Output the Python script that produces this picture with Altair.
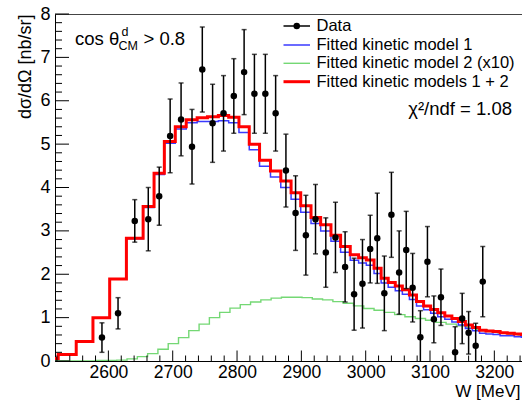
import altair as alt
import pandas as pd

FONT = "Liberation Sans"

# ---- fitted models (variable bins, same as data) ----
fit_edges = [2517, 2522, 2550, 2576, 2602, 2628, 2654, 2671, 2687, 2704, 2721, 2738, 2754,
             2771, 2787, 2803, 2819, 2835, 2852, 2868, 2884, 2899, 2915, 2930, 2946, 2961,
             2976, 2989, 3001, 3013, 3024, 3035, 3046, 3057, 3068, 3079, 3090, 3101, 3112,
             3123, 3134, 3144, 3155, 3166, 3177, 3187, 3198, 3209, 3220, 3231, 3242, 3253]
red_vals = [0.06, 0.15, 0.45, 1.00, 1.89, 2.83, 3.56, 4.33, 5.06, 5.40, 5.56, 5.61, 5.63,
            5.66, 5.62, 5.40, 5.00, 4.63, 4.38, 4.15, 3.88, 3.58, 3.31, 3.14, 2.90, 2.64,
            2.45, 2.38, 2.33, 2.14, 1.91, 1.81, 1.73, 1.64, 1.52, 1.37, 1.27, 1.19, 1.11,
            1.04, 0.98, 0.91, 0.83, 0.77, 0.71, 0.69, 0.68, 0.65, 0.64, 0.62, 0.61]
blue_vals = [0.06, 0.15, 0.45, 1.00, 1.89, 2.82, 3.54, 4.30, 5.02, 5.35, 5.49, 5.52, 5.52,
             5.54, 5.49, 5.27, 4.87, 4.49, 4.24, 4.00, 3.73, 3.43, 3.17, 3.00, 2.76, 2.51,
             2.32, 2.26, 2.21, 2.02, 1.80, 1.70, 1.62, 1.54, 1.42, 1.27, 1.18, 1.10, 1.02,
             0.96, 0.90, 0.83, 0.75, 0.70, 0.64, 0.62, 0.61, 0.58, 0.58, 0.56, 0.55]

# ---- model 2 (x10), uniform 16 MeV bins ----
green_edges = list(range(2517, 3254, 16))
green_vals = [0.0, 0.0, 0.0, 0.0, 0.01, 0.01, 0.02, 0.05, 0.10, 0.17, 0.27, 0.40, 0.54,
              0.70, 0.85, 1.00, 1.12, 1.22, 1.30, 1.36, 1.41, 1.45, 1.47, 1.47, 1.46, 1.43,
              1.41, 1.37, 1.33, 1.27, 1.21, 1.17, 1.12, 1.07, 1.02, 0.98, 0.94, 0.89, 0.85,
              0.81, 0.76, 0.72, 0.68, 0.65, 0.62, 0.60]

# ---- data points ----
data_W = [2590, 2615, 2641, 2662, 2679, 2696, 2713, 2730, 2746, 2762, 2779, 2795, 2811,
          2827, 2844, 2860, 2876, 2891, 2907, 2922, 2938, 2953, 2968, 2982, 2995, 3007,
          3018, 3029, 3040, 3052, 3063, 3073, 3085, 3096, 3106, 3117, 3139, 3150, 3160,
          3171, 3182]
data_y = [0.54, 1.10, 3.23, 3.27, 3.80, 5.19, 5.57, 4.94, 6.72, 5.48, 5.71, 6.11, 6.66,
          6.16, 6.16, 5.71, 4.39, 3.41, 2.90, 3.27, 2.50, 2.85, 2.17, 1.54, 1.78, 2.58,
          2.83, 1.56, 3.37, 2.04, 2.56, 1.69, 0.55, 2.29, 0.96, 1.47, 0.20, 0.98, 0.65,
          0.35, 1.83]
data_err = [0.34, 0.36, 0.49, 0.73, 0.67, 0.85, 0.84, 0.86, 0.98, 0.90, 0.87, 0.86, 0.98,
            0.91, 0.91, 0.87, 0.84, 0.86, 0.92, 0.80, 0.80, 0.81, 0.81, 0.83, 1.02, 0.78,
            1.04, 0.86, 0.98, 0.96, 0.89, 0.79, 0.61, 0.81, 0.54, 0.65, 0.59, 0.58, 0.49,
            0.52, 0.81]

x_major = [2600, 2700, 2800, 2900, 3000, 3100, 3200]
y_major = [0, 1, 2, 3, 4, 5, 6, 7, 8]

W_DOMAIN = [2517, 3243]
PW, PH = 467, 347

xs = alt.Scale(domain=W_DOMAIN, nice=False, zero=False)
ys = alt.Scale(domain=[0, 8], nice=False, zero=False)

X_AXIS = alt.Axis(
    values=x_major, format="d", ticks=False, tickSize=0, grid=False, domainColor="black",
    labelFont=FONT, labelFontSize=17.5, labelColor="black", labelPadding=2,
    title="W [MeV]", titleFont=FONT, titleFontSize=17, titleFontWeight="normal",
    titleColor="black", titleAlign="right", titleAnchor="end", titleX=PW - 2,
    titleY=35, titleBaseline="alphabetic")
Y_AXIS = alt.Axis(
    values=y_major, format="d", ticks=False, tickSize=0, grid=False, domainColor="black",
    labelFont=FONT, labelFontSize=18, labelColor="black", labelPadding=5,
    title="dσ/dΩ [nb/sr]", titleFont=FONT, titleFontSize=18, titleFontWeight="normal",
    titleColor="black", titleAngle=-90, titleAlign="right", titleAnchor="end",
    titleX=-30, titleY=0, titleBaseline="middle")


def X(field):
    return alt.X(field, scale=xs, axis=X_AXIS)


def Y(field):
    return alt.Y(field, scale=ys, axis=Y_AXIS)


def step_df(edges, vals):
    return pd.DataFrame({"W": edges, "v": list(vals) + [vals[-1]]})


def hist_layer(edges, vals, color, width):
    return alt.Chart(step_df(edges, vals)).mark_line(
        interpolate="step-after", color=color, strokeWidth=width, clip=True
    ).encode(x=X("W:Q"), y=Y("v:Q"))


GREEN, BLUE, RED = "#74d874", "#3a3aff", "#ff0000"
green = hist_layer(green_edges, green_vals, GREEN, 1.4)
blue = hist_layer(fit_edges, blue_vals, BLUE, 1.5)
red = hist_layer(fit_edges, red_vals, RED, 3)

ddf = pd.DataFrame({"W": data_W, "y": data_y, "err": data_err})
ddf["lo"] = ddf["y"] - ddf["err"]
ddf["hi"] = ddf["y"] + ddf["err"]

base_d = alt.Chart(ddf)
err_rules = base_d.mark_rule(color="black", strokeWidth=1.5, clip=True).encode(
    x=X("W:Q"), y=Y("lo:Q"), y2="hi:Q")
cap_lo = base_d.mark_tick(color="black", orient="horizontal", size=5, thickness=1.5, clip=True).encode(
    x=X("W:Q"), y=Y("lo:Q"))
cap_hi = base_d.mark_tick(color="black", orient="horizontal", size=5, thickness=1.5, clip=True).encode(
    x=X("W:Q"), y=Y("hi:Q"))
pts = base_d.mark_circle(color="black", opacity=1, size=42).encode(x=X("W:Q"), y=Y("y:Q"))

# ---- inward axis ticks ----
x_minor = [w for w in range(2520, 3241, 20) if w not in x_major]
y_minor = [round(i * 0.2, 1) for i in range(41) if i % 5 != 0]

xt_major = alt.Chart(pd.DataFrame({"W": x_major})).mark_rule(color="black", strokeWidth=1).encode(
    x=X("W:Q"), y=alt.value(PH), y2=alt.value(PH - 10.5))
xt_minor = alt.Chart(pd.DataFrame({"W": x_minor})).mark_rule(color="black", strokeWidth=1).encode(
    x=X("W:Q"), y=alt.value(PH), y2=alt.value(PH - 5.5))
yt_major = alt.Chart(pd.DataFrame({"v": y_major})).mark_rule(color="black", strokeWidth=1).encode(
    y=Y("v:Q"), x=alt.value(0), x2=alt.value(14))
yt_minor = alt.Chart(pd.DataFrame({"v": y_minor})).mark_rule(color="black", strokeWidth=1).encode(
    y=Y("v:Q"), x=alt.value(0), x2=alt.value(7))


# ---- annotations ----
def txt(s, x, y, size, align="left", baseline="alphabetic"):
    return alt.Chart(pd.DataFrame({"t": [s]})).mark_text(
        align=align, baseline=baseline, font=FONT, fontSize=size, color="black"
    ).encode(text="t:N", x=alt.value(x), y=alt.value(y))


def lrule(x1, x2, y, color, width):
    return alt.Chart(pd.DataFrame({"t": [0]})).mark_rule(color=color, strokeWidth=width).encode(
        x=alt.value(x1), x2=alt.value(x2), y=alt.value(y))


legend_labels = ["Data", "Fitted kinetic model 1", "Fitted kinetic model 2 (x10)",
                 "Fitted kinetic models 1 + 2"]
rows = [12, 31, 49.3, 67.7]
LX1, LX2, LT = 228.5, 255, 261.5

ann = [
    txt("cos θ", 20, 31, 18.5),
    txt("d", 66.5, 22, 12.5),
    txt("CM", 63.5, 36, 12.5),
    txt("> 0.8", 88.5, 31, 18.5),
    txt("χ²/ndf = 1.08", 457, 101, 18.5, align="right"),
    lrule(LX1, LX2, rows[0], "black", 1.5),
    alt.Chart(pd.DataFrame({"t": [0]})).mark_circle(color="black", opacity=1, size=42).encode(
        x=alt.value((LX1 + LX2) / 2), y=alt.value(rows[0])),
    lrule(LX1, LX2, rows[1], BLUE, 1.5),
    lrule(LX1, LX2, rows[2], GREEN, 1.4),
    lrule(LX1, LX2, rows[3], RED, 3),
]
for lab, r in zip(legend_labels, rows):
    ann.append(txt(lab, LT, r, 16.5, baseline="middle"))

chart = alt.layer(
    green, blue, red, err_rules, cap_lo, cap_hi, pts,
    xt_major, xt_minor, yt_major, yt_minor, *ann
).properties(
    width=PW, height=PH,
    padding={"left": 55, "top": 14, "right": 0, "bottom": 39},
    autosize=alt.AutoSizeParams(type="none"),
).configure_view(stroke="#444", strokeWidth=1).configure_axis(domainWidth=1)

chart.save("out.html", embed_options={"renderer": "svg", "actions": False})
